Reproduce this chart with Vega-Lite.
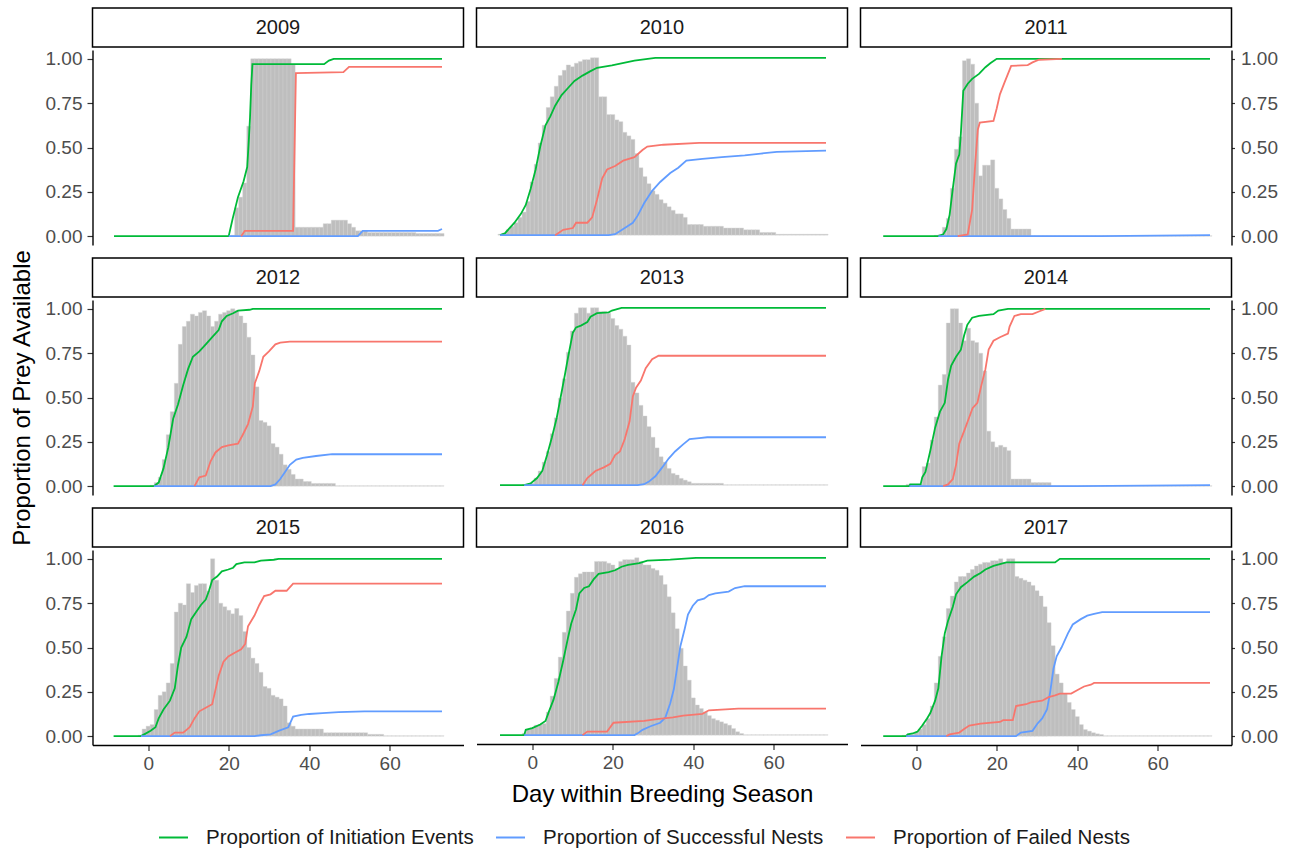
{
"$schema": "https://vega.github.io/schema/vega-lite/v6.json",
"padding": {"left": 10, "top": 7, "right": 5, "bottom": 3},
"datasets": {
"series": [{"s":"I","name":"Proportion of Initiation Events"},{"s":"S","name":"Proportion of Successful Nests"},{"s":"F","name":"Proportion of Failed Nests"}],
"bars": [
{"y":2009,"d":21,"v":0.005},{"y":2009,"d":22,"v":0.16},{"y":2009,"d":23,"v":0.22},{"y":2009,"d":24,"v":0.3},{"y":2009,"d":25,"v":0.62},{"y":2009,"d":26,"v":1},{"y":2009,"d":27,"v":1},{"y":2009,"d":28,"v":1},{"y":2009,"d":29,"v":1},{"y":2009,"d":30,"v":1},{"y":2009,"d":31,"v":1},{"y":2009,"d":32,"v":1},{"y":2009,"d":33,"v":1},{"y":2009,"d":34,"v":1},{"y":2009,"d":35,"v":1},{"y":2009,"d":36,"v":0.97},{"y":2009,"d":37,"v":0.05},{"y":2009,"d":38,"v":0.05},{"y":2009,"d":39,"v":0.05},{"y":2009,"d":40,"v":0.05},{"y":2009,"d":41,"v":0.05},{"y":2009,"d":42,"v":0.05},{"y":2009,"d":43,"v":0.05},{"y":2009,"d":44,"v":0.07},{"y":2009,"d":45,"v":0.07},{"y":2009,"d":46,"v":0.09},{"y":2009,"d":47,"v":0.09},{"y":2009,"d":48,"v":0.09},{"y":2009,"d":49,"v":0.09},{"y":2009,"d":50,"v":0.07},{"y":2009,"d":51,"v":0.05},{"y":2009,"d":52,"v":0.03},{"y":2009,"d":53,"v":0.03},{"y":2009,"d":54,"v":0.03},{"y":2009,"d":55,"v":0.02},{"y":2009,"d":56,"v":0.02},{"y":2009,"d":57,"v":0.02},{"y":2009,"d":58,"v":0.02},{"y":2009,"d":59,"v":0.02},{"y":2009,"d":60,"v":0.02},{"y":2009,"d":61,"v":0.02},{"y":2009,"d":62,"v":0.02},{"y":2009,"d":63,"v":0.02},{"y":2009,"d":64,"v":0.02},{"y":2009,"d":65,"v":0.02},{"y":2009,"d":66,"v":0.02},{"y":2009,"d":67,"v":0.015},{"y":2009,"d":68,"v":0.015},{"y":2009,"d":69,"v":0.015},{"y":2009,"d":70,"v":0.015},{"y":2009,"d":71,"v":0.015},{"y":2009,"d":72,"v":0.015},{"y":2009,"d":73,"v":0.015},
{"y":2010,"d":-8,"v":0.005},{"y":2010,"d":-7,"v":0.01},{"y":2010,"d":-6,"v":0.03},{"y":2010,"d":-5,"v":0.05},{"y":2010,"d":-4,"v":0.07},{"y":2010,"d":-3,"v":0.1},{"y":2010,"d":-2,"v":0.13},{"y":2010,"d":-1,"v":0.19},{"y":2010,"d":0,"v":0.3},{"y":2010,"d":1,"v":0.4},{"y":2010,"d":2,"v":0.52},{"y":2010,"d":3,"v":0.62},{"y":2010,"d":4,"v":0.72},{"y":2010,"d":5,"v":0.78},{"y":2010,"d":6,"v":0.84},{"y":2010,"d":7,"v":0.9},{"y":2010,"d":8,"v":0.93},{"y":2010,"d":9,"v":0.96},{"y":2010,"d":10,"v":0.95},{"y":2010,"d":11,"v":0.97},{"y":2010,"d":12,"v":0.98},{"y":2010,"d":13,"v":0.99},{"y":2010,"d":14,"v":0.99},{"y":2010,"d":15,"v":1},{"y":2010,"d":16,"v":1},{"y":2010,"d":17,"v":0.78},{"y":2010,"d":18,"v":0.78},{"y":2010,"d":19,"v":0.68},{"y":2010,"d":20,"v":0.68},{"y":2010,"d":21,"v":0.65},{"y":2010,"d":22,"v":0.64},{"y":2010,"d":23,"v":0.58},{"y":2010,"d":24,"v":0.56},{"y":2010,"d":25,"v":0.54},{"y":2010,"d":26,"v":0.46},{"y":2010,"d":27,"v":0.38},{"y":2010,"d":28,"v":0.33},{"y":2010,"d":29,"v":0.29},{"y":2010,"d":30,"v":0.25},{"y":2010,"d":31,"v":0.23},{"y":2010,"d":32,"v":0.2},{"y":2010,"d":33,"v":0.18},{"y":2010,"d":34,"v":0.16},{"y":2010,"d":35,"v":0.14},{"y":2010,"d":36,"v":0.12},{"y":2010,"d":37,"v":0.12},{"y":2010,"d":38,"v":0.1},{"y":2010,"d":39,"v":0.06},{"y":2010,"d":40,"v":0.06},{"y":2010,"d":41,"v":0.06},{"y":2010,"d":42,"v":0.06},{"y":2010,"d":43,"v":0.05},{"y":2010,"d":44,"v":0.05},{"y":2010,"d":45,"v":0.05},{"y":2010,"d":46,"v":0.05},{"y":2010,"d":47,"v":0.05},{"y":2010,"d":48,"v":0.04},{"y":2010,"d":49,"v":0.04},{"y":2010,"d":50,"v":0.04},{"y":2010,"d":51,"v":0.04},{"y":2010,"d":52,"v":0.04},{"y":2010,"d":53,"v":0.03},{"y":2010,"d":54,"v":0.03},{"y":2010,"d":55,"v":0.03},{"y":2010,"d":56,"v":0.03},{"y":2010,"d":57,"v":0.015},{"y":2010,"d":58,"v":0.015},{"y":2010,"d":59,"v":0.015},{"y":2010,"d":60,"v":0.015},{"y":2010,"d":61,"v":0.005},{"y":2010,"d":62,"v":0.005},{"y":2010,"d":63,"v":0.005},{"y":2010,"d":64,"v":0.005},{"y":2010,"d":65,"v":0.005},{"y":2010,"d":66,"v":0.005},{"y":2010,"d":67,"v":0.005},{"y":2010,"d":68,"v":0.005},{"y":2010,"d":69,"v":0.005},{"y":2010,"d":70,"v":0.005},{"y":2010,"d":71,"v":0.005},{"y":2010,"d":72,"v":0.005},{"y":2010,"d":73,"v":0.005},
{"y":2011,"d":5,"v":0.005},{"y":2011,"d":6,"v":0.01},{"y":2011,"d":7,"v":0.05},{"y":2011,"d":8,"v":0.1},{"y":2011,"d":9,"v":0.27},{"y":2011,"d":10,"v":0.49},{"y":2011,"d":11,"v":0.56},{"y":2011,"d":12,"v":0.99},{"y":2011,"d":13,"v":1},{"y":2011,"d":14,"v":0.97},{"y":2011,"d":15,"v":0.75},{"y":2011,"d":16,"v":0.34},{"y":2011,"d":17,"v":0.4},{"y":2011,"d":18,"v":0.4},{"y":2011,"d":19,"v":0.43},{"y":2011,"d":20,"v":0.27},{"y":2011,"d":21,"v":0.21},{"y":2011,"d":22,"v":0.15},{"y":2011,"d":23,"v":0.1},{"y":2011,"d":24,"v":0.04},{"y":2011,"d":25,"v":0.04},{"y":2011,"d":26,"v":0.04},{"y":2011,"d":27,"v":0.04},{"y":2011,"d":28,"v":0.04},{"y":2011,"d":29,"v":0.002},{"y":2011,"d":30,"v":0.002},{"y":2011,"d":31,"v":0.002},{"y":2011,"d":32,"v":0.002},{"y":2011,"d":33,"v":0.002},{"y":2011,"d":34,"v":0.002},{"y":2011,"d":35,"v":0.002},{"y":2011,"d":36,"v":0.002},{"y":2011,"d":37,"v":0.002},{"y":2011,"d":38,"v":0.002},{"y":2011,"d":39,"v":0.002},{"y":2011,"d":40,"v":0.002},{"y":2011,"d":41,"v":0.002},{"y":2011,"d":42,"v":0.002},{"y":2011,"d":43,"v":0.002},{"y":2011,"d":44,"v":0.002},{"y":2011,"d":45,"v":0.002},{"y":2011,"d":46,"v":0.002},{"y":2011,"d":47,"v":0.002},{"y":2011,"d":48,"v":0.002},{"y":2011,"d":49,"v":0.002},{"y":2011,"d":50,"v":0.002},{"y":2011,"d":51,"v":0.002},{"y":2011,"d":52,"v":0.002},{"y":2011,"d":53,"v":0.002},{"y":2011,"d":54,"v":0.002},{"y":2011,"d":55,"v":0.002},{"y":2011,"d":56,"v":0.002},{"y":2011,"d":57,"v":0.002},{"y":2011,"d":58,"v":0.002},{"y":2011,"d":59,"v":0.002},{"y":2011,"d":60,"v":0.002},{"y":2011,"d":61,"v":0.002},{"y":2011,"d":62,"v":0.002},{"y":2011,"d":63,"v":0.002},{"y":2011,"d":64,"v":0.002},{"y":2011,"d":65,"v":0.002},{"y":2011,"d":66,"v":0.002},{"y":2011,"d":67,"v":0.002},{"y":2011,"d":68,"v":0.002},{"y":2011,"d":69,"v":0.002},{"y":2011,"d":70,"v":0.002},{"y":2011,"d":71,"v":0.002},{"y":2011,"d":72,"v":0.002},{"y":2011,"d":73,"v":0.002},
{"y":2012,"d":1,"v":0.005},{"y":2012,"d":2,"v":0.02},{"y":2012,"d":3,"v":0.05},{"y":2012,"d":4,"v":0.15},{"y":2012,"d":5,"v":0.29},{"y":2012,"d":6,"v":0.42},{"y":2012,"d":7,"v":0.58},{"y":2012,"d":8,"v":0.8},{"y":2012,"d":9,"v":0.9},{"y":2012,"d":10,"v":0.93},{"y":2012,"d":11,"v":0.97},{"y":2012,"d":12,"v":0.96},{"y":2012,"d":13,"v":0.98},{"y":2012,"d":14,"v":0.99},{"y":2012,"d":15,"v":0.96},{"y":2012,"d":16,"v":0.9},{"y":2012,"d":17,"v":0.93},{"y":2012,"d":18,"v":0.97},{"y":2012,"d":19,"v":0.98},{"y":2012,"d":20,"v":0.99},{"y":2012,"d":21,"v":1},{"y":2012,"d":22,"v":0.99},{"y":2012,"d":23,"v":0.96},{"y":2012,"d":24,"v":0.92},{"y":2012,"d":25,"v":0.84},{"y":2012,"d":26,"v":0.74},{"y":2012,"d":27,"v":0.56},{"y":2012,"d":28,"v":0.37},{"y":2012,"d":29,"v":0.36},{"y":2012,"d":30,"v":0.34},{"y":2012,"d":31,"v":0.24},{"y":2012,"d":32,"v":0.22},{"y":2012,"d":33,"v":0.18},{"y":2012,"d":34,"v":0.12},{"y":2012,"d":35,"v":0.095},{"y":2012,"d":36,"v":0.066},{"y":2012,"d":37,"v":0.04},{"y":2012,"d":38,"v":0.04},{"y":2012,"d":39,"v":0.026},{"y":2012,"d":40,"v":0.026},{"y":2012,"d":41,"v":0.015},{"y":2012,"d":42,"v":0.015},{"y":2012,"d":43,"v":0.015},{"y":2012,"d":44,"v":0.015},{"y":2012,"d":45,"v":0.015},{"y":2012,"d":46,"v":0.015},{"y":2012,"d":47,"v":0.002},{"y":2012,"d":48,"v":0.002},{"y":2012,"d":49,"v":0.002},{"y":2012,"d":50,"v":0.002},{"y":2012,"d":51,"v":0.002},{"y":2012,"d":52,"v":0.002},{"y":2012,"d":53,"v":0.002},{"y":2012,"d":54,"v":0.002},{"y":2012,"d":55,"v":0.002},{"y":2012,"d":56,"v":0.002},{"y":2012,"d":57,"v":0.002},{"y":2012,"d":58,"v":0.002},{"y":2012,"d":59,"v":0.002},{"y":2012,"d":60,"v":0.002},{"y":2012,"d":61,"v":0.002},{"y":2012,"d":62,"v":0.002},{"y":2012,"d":63,"v":0.002},{"y":2012,"d":64,"v":0.002},{"y":2012,"d":65,"v":0.002},{"y":2012,"d":66,"v":0.002},{"y":2012,"d":67,"v":0.002},{"y":2012,"d":68,"v":0.002},{"y":2012,"d":69,"v":0.002},{"y":2012,"d":70,"v":0.002},{"y":2012,"d":71,"v":0.002},{"y":2012,"d":72,"v":0.002},{"y":2012,"d":73,"v":0.002},
{"y":2013,"d":-2,"v":0.003},{"y":2013,"d":-1,"v":0.005},{"y":2013,"d":0,"v":0.01},{"y":2013,"d":1,"v":0.04},{"y":2013,"d":2,"v":0.08},{"y":2013,"d":3,"v":0.13},{"y":2013,"d":4,"v":0.19},{"y":2013,"d":5,"v":0.29},{"y":2013,"d":6,"v":0.38},{"y":2013,"d":7,"v":0.49},{"y":2013,"d":8,"v":0.6},{"y":2013,"d":9,"v":0.75},{"y":2013,"d":10,"v":0.87},{"y":2013,"d":11,"v":0.97},{"y":2013,"d":12,"v":1},{"y":2013,"d":13,"v":1},{"y":2013,"d":14,"v":0.97},{"y":2013,"d":15,"v":1},{"y":2013,"d":16,"v":1},{"y":2013,"d":17,"v":0.98},{"y":2013,"d":18,"v":0.98},{"y":2013,"d":19,"v":0.97},{"y":2013,"d":20,"v":0.94},{"y":2013,"d":21,"v":0.9},{"y":2013,"d":22,"v":0.88},{"y":2013,"d":23,"v":0.84},{"y":2013,"d":24,"v":0.79},{"y":2013,"d":25,"v":0.58},{"y":2013,"d":26,"v":0.52},{"y":2013,"d":27,"v":0.45},{"y":2013,"d":28,"v":0.39},{"y":2013,"d":29,"v":0.33},{"y":2013,"d":30,"v":0.27},{"y":2013,"d":31,"v":0.21},{"y":2013,"d":32,"v":0.16},{"y":2013,"d":33,"v":0.13},{"y":2013,"d":34,"v":0.094},{"y":2013,"d":35,"v":0.066},{"y":2013,"d":36,"v":0.057},{"y":2013,"d":37,"v":0.038},{"y":2013,"d":38,"v":0.028},{"y":2013,"d":39,"v":0.019},{"y":2013,"d":40,"v":0.01},{"y":2013,"d":41,"v":0.01},{"y":2013,"d":42,"v":0.01},{"y":2013,"d":43,"v":0.01},{"y":2013,"d":44,"v":0.01},{"y":2013,"d":45,"v":0.01},{"y":2013,"d":46,"v":0.01},{"y":2013,"d":47,"v":0.01},{"y":2013,"d":48,"v":0.002},{"y":2013,"d":49,"v":0.002},{"y":2013,"d":50,"v":0.002},{"y":2013,"d":51,"v":0.002},{"y":2013,"d":52,"v":0.002},{"y":2013,"d":53,"v":0.002},{"y":2013,"d":54,"v":0.002},{"y":2013,"d":55,"v":0.002},{"y":2013,"d":56,"v":0.002},{"y":2013,"d":57,"v":0.002},{"y":2013,"d":58,"v":0.002},{"y":2013,"d":59,"v":0.002},{"y":2013,"d":60,"v":0.002},{"y":2013,"d":61,"v":0.002},{"y":2013,"d":62,"v":0.002},{"y":2013,"d":63,"v":0.002},{"y":2013,"d":64,"v":0.002},{"y":2013,"d":65,"v":0.002},{"y":2013,"d":66,"v":0.002},{"y":2013,"d":67,"v":0.002},{"y":2013,"d":68,"v":0.002},{"y":2013,"d":69,"v":0.002},{"y":2013,"d":70,"v":0.002},{"y":2013,"d":71,"v":0.002},{"y":2013,"d":72,"v":0.002},{"y":2013,"d":73,"v":0.002},
{"y":2014,"d":-2,"v":0.01},{"y":2014,"d":-1,"v":0.01},{"y":2014,"d":0,"v":0.01},{"y":2014,"d":1,"v":0.01},{"y":2014,"d":2,"v":0.11},{"y":2014,"d":3,"v":0.13},{"y":2014,"d":4,"v":0.26},{"y":2014,"d":5,"v":0.39},{"y":2014,"d":6,"v":0.57},{"y":2014,"d":7,"v":0.63},{"y":2014,"d":8,"v":0.92},{"y":2014,"d":9,"v":1},{"y":2014,"d":10,"v":1},{"y":2014,"d":11,"v":0.92},{"y":2014,"d":12,"v":0.82},{"y":2014,"d":13,"v":0.89},{"y":2014,"d":14,"v":0.82},{"y":2014,"d":15,"v":0.81},{"y":2014,"d":16,"v":0.75},{"y":2014,"d":17,"v":0.65},{"y":2014,"d":18,"v":0.31},{"y":2014,"d":19,"v":0.25},{"y":2014,"d":20,"v":0.22},{"y":2014,"d":21,"v":0.23},{"y":2014,"d":22,"v":0.22},{"y":2014,"d":23,"v":0.2},{"y":2014,"d":24,"v":0.04},{"y":2014,"d":25,"v":0.04},{"y":2014,"d":26,"v":0.04},{"y":2014,"d":27,"v":0.04},{"y":2014,"d":28,"v":0.04},{"y":2014,"d":29,"v":0.02},{"y":2014,"d":30,"v":0.02},{"y":2014,"d":31,"v":0.02},{"y":2014,"d":32,"v":0.02},{"y":2014,"d":33,"v":0.02},{"y":2014,"d":34,"v":0.002},{"y":2014,"d":35,"v":0.002},{"y":2014,"d":36,"v":0.002},{"y":2014,"d":37,"v":0.002},{"y":2014,"d":38,"v":0.002},{"y":2014,"d":39,"v":0.002},{"y":2014,"d":40,"v":0.002},{"y":2014,"d":41,"v":0.002},{"y":2014,"d":42,"v":0.002},{"y":2014,"d":43,"v":0.002},{"y":2014,"d":44,"v":0.002},{"y":2014,"d":45,"v":0.002},{"y":2014,"d":46,"v":0.002},{"y":2014,"d":47,"v":0.002},{"y":2014,"d":48,"v":0.002},{"y":2014,"d":49,"v":0.002},{"y":2014,"d":50,"v":0.002},{"y":2014,"d":51,"v":0.002},{"y":2014,"d":52,"v":0.002},{"y":2014,"d":53,"v":0.002},{"y":2014,"d":54,"v":0.002},{"y":2014,"d":55,"v":0.002},{"y":2014,"d":56,"v":0.002},{"y":2014,"d":57,"v":0.002},{"y":2014,"d":58,"v":0.002},{"y":2014,"d":59,"v":0.002},{"y":2014,"d":60,"v":0.002},{"y":2014,"d":61,"v":0.002},{"y":2014,"d":62,"v":0.002},{"y":2014,"d":63,"v":0.002},{"y":2014,"d":64,"v":0.002},{"y":2014,"d":65,"v":0.002},{"y":2014,"d":66,"v":0.002},{"y":2014,"d":67,"v":0.002},{"y":2014,"d":68,"v":0.002},{"y":2014,"d":69,"v":0.002},{"y":2014,"d":70,"v":0.002},{"y":2014,"d":71,"v":0.002},{"y":2014,"d":72,"v":0.002},{"y":2014,"d":73,"v":0.002},
{"y":2015,"d":-2,"v":0.005},{"y":2015,"d":-1,"v":0.04},{"y":2015,"d":0,"v":0.056},{"y":2015,"d":1,"v":0.065},{"y":2015,"d":2,"v":0.15},{"y":2015,"d":3,"v":0.23},{"y":2015,"d":4,"v":0.25},{"y":2015,"d":5,"v":0.3},{"y":2015,"d":6,"v":0.41},{"y":2015,"d":7,"v":0.7},{"y":2015,"d":8,"v":0.75},{"y":2015,"d":9,"v":0.74},{"y":2015,"d":10,"v":0.86},{"y":2015,"d":11,"v":0.81},{"y":2015,"d":12,"v":0.85},{"y":2015,"d":13,"v":0.86},{"y":2015,"d":14,"v":0.86},{"y":2015,"d":15,"v":0.82},{"y":2015,"d":16,"v":1},{"y":2015,"d":17,"v":0.88},{"y":2015,"d":18,"v":0.75},{"y":2015,"d":19,"v":0.73},{"y":2015,"d":20,"v":0.71},{"y":2015,"d":21,"v":0.69},{"y":2015,"d":22,"v":0.72},{"y":2015,"d":23,"v":0.68},{"y":2015,"d":24,"v":0.59},{"y":2015,"d":25,"v":0.5},{"y":2015,"d":26,"v":0.44},{"y":2015,"d":27,"v":0.41},{"y":2015,"d":28,"v":0.36},{"y":2015,"d":29,"v":0.28},{"y":2015,"d":30,"v":0.27},{"y":2015,"d":31,"v":0.23},{"y":2015,"d":32,"v":0.22},{"y":2015,"d":33,"v":0.21},{"y":2015,"d":34,"v":0.17},{"y":2015,"d":35,"v":0.075},{"y":2015,"d":36,"v":0.056},{"y":2015,"d":37,"v":0.04},{"y":2015,"d":38,"v":0.04},{"y":2015,"d":39,"v":0.04},{"y":2015,"d":40,"v":0.04},{"y":2015,"d":41,"v":0.04},{"y":2015,"d":42,"v":0.04},{"y":2015,"d":43,"v":0.04},{"y":2015,"d":44,"v":0.019},{"y":2015,"d":45,"v":0.019},{"y":2015,"d":46,"v":0.019},{"y":2015,"d":47,"v":0.019},{"y":2015,"d":48,"v":0.019},{"y":2015,"d":49,"v":0.019},{"y":2015,"d":50,"v":0.019},{"y":2015,"d":51,"v":0.019},{"y":2015,"d":52,"v":0.019},{"y":2015,"d":53,"v":0.019},{"y":2015,"d":54,"v":0.019},{"y":2015,"d":55,"v":0.01},{"y":2015,"d":56,"v":0.01},{"y":2015,"d":57,"v":0.01},{"y":2015,"d":58,"v":0.01},{"y":2015,"d":59,"v":0.002},{"y":2015,"d":60,"v":0.002},{"y":2015,"d":61,"v":0.002},{"y":2015,"d":62,"v":0.002},{"y":2015,"d":63,"v":0.002},{"y":2015,"d":64,"v":0.002},{"y":2015,"d":65,"v":0.002},{"y":2015,"d":66,"v":0.002},{"y":2015,"d":67,"v":0.002},{"y":2015,"d":68,"v":0.002},{"y":2015,"d":69,"v":0.002},{"y":2015,"d":70,"v":0.002},{"y":2015,"d":71,"v":0.002},{"y":2015,"d":72,"v":0.002},{"y":2015,"d":73,"v":0.002},
{"y":2016,"d":-2,"v":0.01},{"y":2016,"d":-1,"v":0.03},{"y":2016,"d":0,"v":0.04},{"y":2016,"d":1,"v":0.056},{"y":2016,"d":2,"v":0.06},{"y":2016,"d":3,"v":0.065},{"y":2016,"d":4,"v":0.13},{"y":2016,"d":5,"v":0.22},{"y":2016,"d":6,"v":0.32},{"y":2016,"d":7,"v":0.44},{"y":2016,"d":8,"v":0.58},{"y":2016,"d":9,"v":0.7},{"y":2016,"d":10,"v":0.8},{"y":2016,"d":11,"v":0.89},{"y":2016,"d":12,"v":0.91},{"y":2016,"d":13,"v":0.92},{"y":2016,"d":14,"v":0.92},{"y":2016,"d":15,"v":0.92},{"y":2016,"d":16,"v":0.98},{"y":2016,"d":17,"v":0.98},{"y":2016,"d":18,"v":0.98},{"y":2016,"d":19,"v":0.97},{"y":2016,"d":20,"v":0.96},{"y":2016,"d":21,"v":0.94},{"y":2016,"d":22,"v":0.98},{"y":2016,"d":23,"v":0.99},{"y":2016,"d":24,"v":0.99},{"y":2016,"d":25,"v":0.99},{"y":2016,"d":26,"v":1},{"y":2016,"d":27,"v":0.98},{"y":2016,"d":28,"v":0.96},{"y":2016,"d":29,"v":0.96},{"y":2016,"d":30,"v":0.94},{"y":2016,"d":31,"v":0.93},{"y":2016,"d":32,"v":0.9},{"y":2016,"d":33,"v":0.85},{"y":2016,"d":34,"v":0.78},{"y":2016,"d":35,"v":0.69},{"y":2016,"d":36,"v":0.6},{"y":2016,"d":37,"v":0.49},{"y":2016,"d":38,"v":0.39},{"y":2016,"d":39,"v":0.31},{"y":2016,"d":40,"v":0.21},{"y":2016,"d":41,"v":0.17},{"y":2016,"d":42,"v":0.15},{"y":2016,"d":43,"v":0.13},{"y":2016,"d":44,"v":0.11},{"y":2016,"d":45,"v":0.093},{"y":2016,"d":46,"v":0.084},{"y":2016,"d":47,"v":0.075},{"y":2016,"d":48,"v":0.065},{"y":2016,"d":49,"v":0.056},{"y":2016,"d":50,"v":0.037},{"y":2016,"d":51,"v":0.019},{"y":2016,"d":52,"v":0.009},{"y":2016,"d":53,"v":0.002},{"y":2016,"d":54,"v":0.002},{"y":2016,"d":55,"v":0.002},{"y":2016,"d":56,"v":0.002},{"y":2016,"d":57,"v":0.002},{"y":2016,"d":58,"v":0.002},{"y":2016,"d":59,"v":0.002},{"y":2016,"d":60,"v":0.002},{"y":2016,"d":61,"v":0.002},{"y":2016,"d":62,"v":0.002},{"y":2016,"d":63,"v":0.002},{"y":2016,"d":64,"v":0.002},{"y":2016,"d":65,"v":0.002},{"y":2016,"d":66,"v":0.002},{"y":2016,"d":67,"v":0.002},{"y":2016,"d":68,"v":0.002},{"y":2016,"d":69,"v":0.002},{"y":2016,"d":70,"v":0.002},{"y":2016,"d":71,"v":0.002},{"y":2016,"d":72,"v":0.002},{"y":2016,"d":73,"v":0.002},
{"y":2017,"d":-3,"v":0.005},{"y":2017,"d":-2,"v":0.01},{"y":2017,"d":-1,"v":0.01},{"y":2017,"d":0,"v":0.02},{"y":2017,"d":1,"v":0.04},{"y":2017,"d":2,"v":0.065},{"y":2017,"d":3,"v":0.1},{"y":2017,"d":4,"v":0.17},{"y":2017,"d":5,"v":0.3},{"y":2017,"d":6,"v":0.45},{"y":2017,"d":7,"v":0.56},{"y":2017,"d":8,"v":0.72},{"y":2017,"d":9,"v":0.79},{"y":2017,"d":10,"v":0.87},{"y":2017,"d":11,"v":0.9},{"y":2017,"d":12,"v":0.9},{"y":2017,"d":13,"v":0.92},{"y":2017,"d":14,"v":0.94},{"y":2017,"d":15,"v":0.96},{"y":2017,"d":16,"v":0.97},{"y":2017,"d":17,"v":0.98},{"y":2017,"d":18,"v":0.98},{"y":2017,"d":19,"v":0.99},{"y":2017,"d":20,"v":0.99},{"y":2017,"d":21,"v":1},{"y":2017,"d":22,"v":0.98},{"y":2017,"d":23,"v":1},{"y":2017,"d":24,"v":1},{"y":2017,"d":25,"v":0.9},{"y":2017,"d":26,"v":0.89},{"y":2017,"d":27,"v":0.88},{"y":2017,"d":28,"v":0.87},{"y":2017,"d":29,"v":0.85},{"y":2017,"d":30,"v":0.82},{"y":2017,"d":31,"v":0.79},{"y":2017,"d":32,"v":0.73},{"y":2017,"d":33,"v":0.64},{"y":2017,"d":34,"v":0.51},{"y":2017,"d":35,"v":0.35},{"y":2017,"d":36,"v":0.3},{"y":2017,"d":37,"v":0.24},{"y":2017,"d":38,"v":0.19},{"y":2017,"d":39,"v":0.15},{"y":2017,"d":40,"v":0.11},{"y":2017,"d":41,"v":0.065},{"y":2017,"d":42,"v":0.037},{"y":2017,"d":43,"v":0.028},{"y":2017,"d":44,"v":0.019},{"y":2017,"d":45,"v":0.013},{"y":2017,"d":46,"v":0.009},{"y":2017,"d":47,"v":0.002},{"y":2017,"d":48,"v":0.002},{"y":2017,"d":49,"v":0.002},{"y":2017,"d":50,"v":0.002},{"y":2017,"d":51,"v":0.002},{"y":2017,"d":52,"v":0.002},{"y":2017,"d":53,"v":0.002},{"y":2017,"d":54,"v":0.002},{"y":2017,"d":55,"v":0.002},{"y":2017,"d":56,"v":0.002},{"y":2017,"d":57,"v":0.002},{"y":2017,"d":58,"v":0.002},{"y":2017,"d":59,"v":0.002},{"y":2017,"d":60,"v":0.002},{"y":2017,"d":61,"v":0.002},{"y":2017,"d":62,"v":0.002},{"y":2017,"d":63,"v":0.002},{"y":2017,"d":64,"v":0.002},{"y":2017,"d":65,"v":0.002},{"y":2017,"d":66,"v":0.002},{"y":2017,"d":67,"v":0.002},{"y":2017,"d":68,"v":0.002},{"y":2017,"d":69,"v":0.002},{"y":2017,"d":70,"v":0.002},{"y":2017,"d":71,"v":0.002},{"y":2017,"d":72,"v":0.002},{"y":2017,"d":73,"v":0.002}
],
"lines": [
{"y":2009,"s":"I","d":-8.5,"v":0},{"y":2009,"s":"I","d":20,"v":0},{"y":2009,"s":"I","d":21,"v":0.1},{"y":2009,"s":"I","d":22.3,"v":0.22},{"y":2009,"s":"I","d":23.7,"v":0.31},{"y":2009,"s":"I","d":24.6,"v":0.39},{"y":2009,"s":"I","d":25,"v":0.54},{"y":2009,"s":"I","d":25.3,"v":0.67},{"y":2009,"s":"I","d":25.6,"v":0.85},{"y":2009,"s":"I","d":25.9,"v":0.97},{"y":2009,"s":"I","d":43.7,"v":0.97},{"y":2009,"s":"I","d":44.9,"v":0.99},{"y":2009,"s":"I","d":46.1,"v":1},{"y":2009,"s":"I","d":73,"v":1},
{"y":2009,"s":"S","d":20,"v":0},{"y":2009,"s":"S","d":52.1,"v":0},{"y":2009,"s":"S","d":53.3,"v":0.03},{"y":2009,"s":"S","d":72,"v":0.03},{"y":2009,"s":"S","d":73,"v":0.04},
{"y":2009,"s":"F","d":23.1,"v":0},{"y":2009,"s":"F","d":24,"v":0.03},{"y":2009,"s":"F","d":36,"v":0.03},{"y":2009,"s":"F","d":36.7,"v":0.92},{"y":2009,"s":"F","d":48.5,"v":0.925},{"y":2009,"s":"F","d":49.9,"v":0.955},{"y":2009,"s":"F","d":73,"v":0.955},
{"y":2010,"s":"I","d":-8,"v":0},{"y":2010,"s":"I","d":-6.8,"v":0.01},{"y":2010,"s":"I","d":-4.4,"v":0.07},{"y":2010,"s":"I","d":-2.8,"v":0.12},{"y":2010,"s":"I","d":-1.6,"v":0.17},{"y":2010,"s":"I","d":-0.4,"v":0.26},{"y":2010,"s":"I","d":0.85,"v":0.37},{"y":2010,"s":"I","d":2,"v":0.5},{"y":2010,"s":"I","d":3.3,"v":0.62},{"y":2010,"s":"I","d":4.5,"v":0.67},{"y":2010,"s":"I","d":5.7,"v":0.73},{"y":2010,"s":"I","d":7.3,"v":0.79},{"y":2010,"s":"I","d":8.9,"v":0.83},{"y":2010,"s":"I","d":10.5,"v":0.87},{"y":2010,"s":"I","d":12.5,"v":0.9},{"y":2010,"s":"I","d":14.5,"v":0.925},{"y":2010,"s":"I","d":16.1,"v":0.944},{"y":2010,"s":"I","d":19.8,"v":0.957},{"y":2010,"s":"I","d":25.4,"v":0.985},{"y":2010,"s":"I","d":30.6,"v":1},{"y":2010,"s":"I","d":73,"v":1},
{"y":2010,"s":"S","d":-8,"v":0},{"y":2010,"s":"S","d":19,"v":0},{"y":2010,"s":"S","d":20.6,"v":0.005},{"y":2010,"s":"S","d":23,"v":0.04},{"y":2010,"s":"S","d":25,"v":0.07},{"y":2010,"s":"S","d":26.2,"v":0.11},{"y":2010,"s":"S","d":27.8,"v":0.18},{"y":2010,"s":"S","d":29.8,"v":0.25},{"y":2010,"s":"S","d":31.8,"v":0.3},{"y":2010,"s":"S","d":34.3,"v":0.35},{"y":2010,"s":"S","d":36.3,"v":0.38},{"y":2010,"s":"S","d":38.3,"v":0.42},{"y":2010,"s":"S","d":42.3,"v":0.43},{"y":2010,"s":"S","d":47.1,"v":0.44},{"y":2010,"s":"S","d":52.8,"v":0.45},{"y":2010,"s":"S","d":56.8,"v":0.46},{"y":2010,"s":"S","d":60.8,"v":0.47},{"y":2010,"s":"S","d":73,"v":0.477},
{"y":2010,"s":"F","d":5.7,"v":0},{"y":2010,"s":"F","d":7.7,"v":0.03},{"y":2010,"s":"F","d":10.1,"v":0.04},{"y":2010,"s":"F","d":10.9,"v":0.07},{"y":2010,"s":"F","d":13.7,"v":0.07},{"y":2010,"s":"F","d":14.9,"v":0.1},{"y":2010,"s":"F","d":16.1,"v":0.2},{"y":2010,"s":"F","d":17.4,"v":0.32},{"y":2010,"s":"F","d":18.6,"v":0.37},{"y":2010,"s":"F","d":20.6,"v":0.39},{"y":2010,"s":"F","d":22.6,"v":0.42},{"y":2010,"s":"F","d":25.4,"v":0.44},{"y":2010,"s":"F","d":27.4,"v":0.48},{"y":2010,"s":"F","d":28.6,"v":0.5},{"y":2010,"s":"F","d":32.6,"v":0.51},{"y":2010,"s":"F","d":41.5,"v":0.52},{"y":2010,"s":"F","d":73,"v":0.52},
{"y":2011,"s":"I","d":-8.2,"v":0},{"y":2011,"s":"I","d":5.5,"v":0},{"y":2011,"s":"I","d":6.7,"v":0.01},{"y":2011,"s":"I","d":7.5,"v":0.04},{"y":2011,"s":"I","d":8.3,"v":0.12},{"y":2011,"s":"I","d":9.1,"v":0.27},{"y":2011,"s":"I","d":9.9,"v":0.41},{"y":2011,"s":"I","d":10.7,"v":0.46},{"y":2011,"s":"I","d":11.1,"v":0.58},{"y":2011,"s":"I","d":11.7,"v":0.82},{"y":2011,"s":"I","d":12.8,"v":0.86},{"y":2011,"s":"I","d":13.9,"v":0.887},{"y":2011,"s":"I","d":15.6,"v":0.915},{"y":2011,"s":"I","d":17.2,"v":0.953},{"y":2011,"s":"I","d":18.4,"v":0.975},{"y":2011,"s":"I","d":20,"v":1},{"y":2011,"s":"I","d":73,"v":1},
{"y":2011,"s":"S","d":5.5,"v":0},{"y":2011,"s":"S","d":46,"v":0},{"y":2011,"s":"S","d":73,"v":0.006},
{"y":2011,"s":"F","d":10.3,"v":0},{"y":2011,"s":"F","d":12.8,"v":0.01},{"y":2011,"s":"F","d":13.9,"v":0.15},{"y":2011,"s":"F","d":14.7,"v":0.42},{"y":2011,"s":"F","d":15.3,"v":0.6},{"y":2011,"s":"F","d":15.8,"v":0.64},{"y":2011,"s":"F","d":19.2,"v":0.65},{"y":2011,"s":"F","d":20,"v":0.72},{"y":2011,"s":"F","d":20.8,"v":0.8},{"y":2011,"s":"F","d":22,"v":0.87},{"y":2011,"s":"F","d":23.6,"v":0.96},{"y":2011,"s":"F","d":27.7,"v":0.965},{"y":2011,"s":"F","d":28.9,"v":0.98},{"y":2011,"s":"F","d":30.5,"v":0.995},{"y":2011,"s":"F","d":36.2,"v":1},
{"y":2012,"s":"I","d":-8.6,"v":0},{"y":2012,"s":"I","d":1.4,"v":0},{"y":2012,"s":"I","d":2.6,"v":0.02},{"y":2012,"s":"I","d":3.8,"v":0.1},{"y":2012,"s":"I","d":5,"v":0.22},{"y":2012,"s":"I","d":6.2,"v":0.38},{"y":2012,"s":"I","d":7.4,"v":0.46},{"y":2012,"s":"I","d":8.7,"v":0.57},{"y":2012,"s":"I","d":9.9,"v":0.66},{"y":2012,"s":"I","d":11.1,"v":0.73},{"y":2012,"s":"I","d":12.7,"v":0.76},{"y":2012,"s":"I","d":14.3,"v":0.8},{"y":2012,"s":"I","d":15.9,"v":0.84},{"y":2012,"s":"I","d":17.5,"v":0.88},{"y":2012,"s":"I","d":18.3,"v":0.93},{"y":2012,"s":"I","d":19.5,"v":0.96},{"y":2012,"s":"I","d":21.1,"v":0.975},{"y":2012,"s":"I","d":22.3,"v":0.99},{"y":2012,"s":"I","d":25.2,"v":0.995},{"y":2012,"s":"I","d":26,"v":1},{"y":2012,"s":"I","d":73,"v":1},
{"y":2012,"s":"S","d":1.4,"v":0},{"y":2012,"s":"S","d":30.4,"v":0},{"y":2012,"s":"S","d":31.6,"v":0.01},{"y":2012,"s":"S","d":32.8,"v":0.04},{"y":2012,"s":"S","d":34,"v":0.08},{"y":2012,"s":"S","d":35.2,"v":0.12},{"y":2012,"s":"S","d":36.8,"v":0.15},{"y":2012,"s":"S","d":38.4,"v":0.16},{"y":2012,"s":"S","d":41.7,"v":0.17},{"y":2012,"s":"S","d":45.7,"v":0.18},{"y":2012,"s":"S","d":73,"v":0.18},
{"y":2012,"s":"F","d":11.5,"v":0},{"y":2012,"s":"F","d":12.7,"v":0.05},{"y":2012,"s":"F","d":14.3,"v":0.06},{"y":2012,"s":"F","d":15.5,"v":0.14},{"y":2012,"s":"F","d":16.7,"v":0.19},{"y":2012,"s":"F","d":18.3,"v":0.22},{"y":2012,"s":"F","d":19.9,"v":0.23},{"y":2012,"s":"F","d":22.3,"v":0.24},{"y":2012,"s":"F","d":23.5,"v":0.29},{"y":2012,"s":"F","d":24.8,"v":0.35},{"y":2012,"s":"F","d":26,"v":0.45},{"y":2012,"s":"F","d":26.5,"v":0.58},{"y":2012,"s":"F","d":27.6,"v":0.65},{"y":2012,"s":"F","d":28.6,"v":0.73},{"y":2012,"s":"F","d":30,"v":0.76},{"y":2012,"s":"F","d":31.6,"v":0.8},{"y":2012,"s":"F","d":32.8,"v":0.81},{"y":2012,"s":"F","d":35.2,"v":0.815},{"y":2012,"s":"F","d":73,"v":0.815},
{"y":2013,"s":"I","d":-8,"v":0},{"y":2013,"s":"I","d":-2,"v":0},{"y":2013,"s":"I","d":-0.4,"v":0.01},{"y":2013,"s":"I","d":1.2,"v":0.04},{"y":2013,"s":"I","d":2.5,"v":0.08},{"y":2013,"s":"I","d":3.7,"v":0.17},{"y":2013,"s":"I","d":4.9,"v":0.27},{"y":2013,"s":"I","d":6.1,"v":0.38},{"y":2013,"s":"I","d":7.1,"v":0.5},{"y":2013,"s":"I","d":8.1,"v":0.62},{"y":2013,"s":"I","d":8.9,"v":0.72},{"y":2013,"s":"I","d":10.1,"v":0.86},{"y":2013,"s":"I","d":10.9,"v":0.89},{"y":2013,"s":"I","d":12.1,"v":0.9},{"y":2013,"s":"I","d":13.7,"v":0.92},{"y":2013,"s":"I","d":14.5,"v":0.95},{"y":2013,"s":"I","d":16.1,"v":0.97},{"y":2013,"s":"I","d":19,"v":0.975},{"y":2013,"s":"I","d":19.8,"v":0.985},{"y":2013,"s":"I","d":22.2,"v":1},{"y":2013,"s":"I","d":73,"v":1},
{"y":2013,"s":"S","d":-2,"v":0},{"y":2013,"s":"S","d":26.2,"v":0},{"y":2013,"s":"S","d":27.8,"v":0.005},{"y":2013,"s":"S","d":29,"v":0.02},{"y":2013,"s":"S","d":30.6,"v":0.05},{"y":2013,"s":"S","d":32.3,"v":0.1},{"y":2013,"s":"S","d":33.9,"v":0.15},{"y":2013,"s":"S","d":35.5,"v":0.19},{"y":2013,"s":"S","d":37.5,"v":0.23},{"y":2013,"s":"S","d":39.1,"v":0.26},{"y":2013,"s":"S","d":41.5,"v":0.265},{"y":2013,"s":"S","d":43.5,"v":0.27},{"y":2013,"s":"S","d":73,"v":0.27},
{"y":2013,"s":"F","d":12.5,"v":0},{"y":2013,"s":"F","d":13.7,"v":0.04},{"y":2013,"s":"F","d":15.7,"v":0.08},{"y":2013,"s":"F","d":17.8,"v":0.1},{"y":2013,"s":"F","d":19.4,"v":0.12},{"y":2013,"s":"F","d":20.6,"v":0.17},{"y":2013,"s":"F","d":21.8,"v":0.19},{"y":2013,"s":"F","d":23,"v":0.26},{"y":2013,"s":"F","d":24.2,"v":0.36},{"y":2013,"s":"F","d":25,"v":0.5},{"y":2013,"s":"F","d":25.8,"v":0.55},{"y":2013,"s":"F","d":27,"v":0.59},{"y":2013,"s":"F","d":28.2,"v":0.66},{"y":2013,"s":"F","d":29.8,"v":0.71},{"y":2013,"s":"F","d":31.4,"v":0.73},{"y":2013,"s":"F","d":73,"v":0.73},
{"y":2014,"s":"I","d":-8.2,"v":0},{"y":2014,"s":"I","d":-1.7,"v":0},{"y":2014,"s":"I","d":-1.5,"v":0.01},{"y":2014,"s":"I","d":1.1,"v":0.01},{"y":2014,"s":"I","d":1.5,"v":0.05},{"y":2014,"s":"I","d":2.3,"v":0.08},{"y":2014,"s":"I","d":3.5,"v":0.2},{"y":2014,"s":"I","d":4.7,"v":0.33},{"y":2014,"s":"I","d":5.9,"v":0.42},{"y":2014,"s":"I","d":7.1,"v":0.47},{"y":2014,"s":"I","d":7.9,"v":0.6},{"y":2014,"s":"I","d":8.7,"v":0.68},{"y":2014,"s":"I","d":9.9,"v":0.73},{"y":2014,"s":"I","d":11.1,"v":0.77},{"y":2014,"s":"I","d":11.9,"v":0.85},{"y":2014,"s":"I","d":12.7,"v":0.91},{"y":2014,"s":"I","d":13.9,"v":0.95},{"y":2014,"s":"I","d":15.6,"v":0.96},{"y":2014,"s":"I","d":19.2,"v":0.97},{"y":2014,"s":"I","d":20.4,"v":0.99},{"y":2014,"s":"I","d":22.8,"v":1},{"y":2014,"s":"I","d":73,"v":1},
{"y":2014,"s":"S","d":-1.7,"v":0},{"y":2014,"s":"S","d":40,"v":0},{"y":2014,"s":"S","d":73,"v":0.006},
{"y":2014,"s":"F","d":6.7,"v":0},{"y":2014,"s":"F","d":7.9,"v":0.01},{"y":2014,"s":"F","d":9.1,"v":0.04},{"y":2014,"s":"F","d":9.9,"v":0.12},{"y":2014,"s":"F","d":10.7,"v":0.24},{"y":2014,"s":"F","d":11.9,"v":0.31},{"y":2014,"s":"F","d":13.2,"v":0.39},{"y":2014,"s":"F","d":14,"v":0.44},{"y":2014,"s":"F","d":15.2,"v":0.47},{"y":2014,"s":"F","d":16.2,"v":0.57},{"y":2014,"s":"F","d":17.2,"v":0.66},{"y":2014,"s":"F","d":18,"v":0.77},{"y":2014,"s":"F","d":19.2,"v":0.82},{"y":2014,"s":"F","d":20.8,"v":0.84},{"y":2014,"s":"F","d":22.8,"v":0.86},{"y":2014,"s":"F","d":23.2,"v":0.9},{"y":2014,"s":"F","d":24.4,"v":0.96},{"y":2014,"s":"F","d":26,"v":0.97},{"y":2014,"s":"F","d":28.9,"v":0.97},{"y":2014,"s":"F","d":30.5,"v":0.985},{"y":2014,"s":"F","d":32.1,"v":1},
{"y":2015,"s":"I","d":-8.6,"v":0},{"y":2015,"s":"I","d":-1.8,"v":0},{"y":2015,"s":"I","d":-1,"v":0.01},{"y":2015,"s":"I","d":0.6,"v":0.03},{"y":2015,"s":"I","d":1.8,"v":0.05},{"y":2015,"s":"I","d":2.6,"v":0.1},{"y":2015,"s":"I","d":3.8,"v":0.15},{"y":2015,"s":"I","d":5.4,"v":0.2},{"y":2015,"s":"I","d":6.6,"v":0.27},{"y":2015,"s":"I","d":7.4,"v":0.4},{"y":2015,"s":"I","d":8.2,"v":0.5},{"y":2015,"s":"I","d":9.5,"v":0.56},{"y":2015,"s":"I","d":10.7,"v":0.66},{"y":2015,"s":"I","d":11.9,"v":0.7},{"y":2015,"s":"I","d":13.1,"v":0.74},{"y":2015,"s":"I","d":14.3,"v":0.77},{"y":2015,"s":"I","d":15.1,"v":0.82},{"y":2015,"s":"I","d":15.9,"v":0.88},{"y":2015,"s":"I","d":17.1,"v":0.9},{"y":2015,"s":"I","d":18.3,"v":0.93},{"y":2015,"s":"I","d":19.9,"v":0.94},{"y":2015,"s":"I","d":21.1,"v":0.95},{"y":2015,"s":"I","d":21.9,"v":0.97},{"y":2015,"s":"I","d":23.9,"v":0.98},{"y":2015,"s":"I","d":26.4,"v":0.98},{"y":2015,"s":"I","d":28,"v":0.99},{"y":2015,"s":"I","d":31.2,"v":0.995},{"y":2015,"s":"I","d":32.4,"v":1},{"y":2015,"s":"I","d":73,"v":1},
{"y":2015,"s":"S","d":-1.8,"v":0},{"y":2015,"s":"S","d":26.4,"v":0},{"y":2015,"s":"S","d":28,"v":0.005},{"y":2015,"s":"S","d":30.4,"v":0.01},{"y":2015,"s":"S","d":32.4,"v":0.03},{"y":2015,"s":"S","d":34.8,"v":0.05},{"y":2015,"s":"S","d":36,"v":0.11},{"y":2015,"s":"S","d":38,"v":0.12},{"y":2015,"s":"S","d":40,"v":0.125},{"y":2015,"s":"S","d":43.3,"v":0.13},{"y":2015,"s":"S","d":47.3,"v":0.135},{"y":2015,"s":"S","d":53.7,"v":0.14},{"y":2015,"s":"S","d":73,"v":0.14},
{"y":2015,"s":"F","d":5.4,"v":0},{"y":2015,"s":"F","d":6.6,"v":0.02},{"y":2015,"s":"F","d":8.7,"v":0.02},{"y":2015,"s":"F","d":10.3,"v":0.05},{"y":2015,"s":"F","d":11.5,"v":0.1},{"y":2015,"s":"F","d":12.7,"v":0.14},{"y":2015,"s":"F","d":14.3,"v":0.16},{"y":2015,"s":"F","d":15.9,"v":0.18},{"y":2015,"s":"F","d":16.5,"v":0.24},{"y":2015,"s":"F","d":17.5,"v":0.34},{"y":2015,"s":"F","d":18.7,"v":0.42},{"y":2015,"s":"F","d":19.9,"v":0.45},{"y":2015,"s":"F","d":21.5,"v":0.47},{"y":2015,"s":"F","d":23.1,"v":0.49},{"y":2015,"s":"F","d":24.1,"v":0.52},{"y":2015,"s":"F","d":24.8,"v":0.62},{"y":2015,"s":"F","d":26.4,"v":0.68},{"y":2015,"s":"F","d":27.6,"v":0.74},{"y":2015,"s":"F","d":28.8,"v":0.79},{"y":2015,"s":"F","d":30.4,"v":0.8},{"y":2015,"s":"F","d":31.6,"v":0.82},{"y":2015,"s":"F","d":34.4,"v":0.82},{"y":2015,"s":"F","d":36,"v":0.86},{"y":2015,"s":"F","d":73,"v":0.86},
{"y":2016,"s":"I","d":-8,"v":0},{"y":2016,"s":"I","d":-2,"v":0},{"y":2016,"s":"I","d":-1.6,"v":0.03},{"y":2016,"s":"I","d":0,"v":0.04},{"y":2016,"s":"I","d":2,"v":0.06},{"y":2016,"s":"I","d":3.3,"v":0.08},{"y":2016,"s":"I","d":4.1,"v":0.13},{"y":2016,"s":"I","d":5.3,"v":0.2},{"y":2016,"s":"I","d":6.5,"v":0.3},{"y":2016,"s":"I","d":7.7,"v":0.42},{"y":2016,"s":"I","d":8.9,"v":0.55},{"y":2016,"s":"I","d":9.7,"v":0.63},{"y":2016,"s":"I","d":10.9,"v":0.71},{"y":2016,"s":"I","d":11.7,"v":0.8},{"y":2016,"s":"I","d":12.9,"v":0.83},{"y":2016,"s":"I","d":14.1,"v":0.84},{"y":2016,"s":"I","d":15.3,"v":0.88},{"y":2016,"s":"I","d":16.5,"v":0.91},{"y":2016,"s":"I","d":19,"v":0.92},{"y":2016,"s":"I","d":20.6,"v":0.93},{"y":2016,"s":"I","d":22.2,"v":0.95},{"y":2016,"s":"I","d":23.8,"v":0.96},{"y":2016,"s":"I","d":26.6,"v":0.97},{"y":2016,"s":"I","d":28.6,"v":0.985},{"y":2016,"s":"I","d":34.3,"v":0.99},{"y":2016,"s":"I","d":40.7,"v":1},{"y":2016,"s":"I","d":73,"v":1},
{"y":2016,"s":"S","d":-2,"v":0},{"y":2016,"s":"S","d":25.4,"v":0},{"y":2016,"s":"S","d":26.2,"v":0.01},{"y":2016,"s":"S","d":27.4,"v":0.03},{"y":2016,"s":"S","d":29.4,"v":0.05},{"y":2016,"s":"S","d":31.8,"v":0.07},{"y":2016,"s":"S","d":33.1,"v":0.1},{"y":2016,"s":"S","d":34.3,"v":0.18},{"y":2016,"s":"S","d":35.2,"v":0.26},{"y":2016,"s":"S","d":36,"v":0.38},{"y":2016,"s":"S","d":36.8,"v":0.5},{"y":2016,"s":"S","d":37.9,"v":0.6},{"y":2016,"s":"S","d":38.7,"v":0.68},{"y":2016,"s":"S","d":39.9,"v":0.73},{"y":2016,"s":"S","d":41.1,"v":0.76},{"y":2016,"s":"S","d":42.7,"v":0.77},{"y":2016,"s":"S","d":43.9,"v":0.79},{"y":2016,"s":"S","d":45.5,"v":0.8},{"y":2016,"s":"S","d":48.8,"v":0.81},{"y":2016,"s":"S","d":50.4,"v":0.83},{"y":2016,"s":"S","d":52.8,"v":0.84},{"y":2016,"s":"S","d":73,"v":0.84},
{"y":2016,"s":"F","d":12.5,"v":0},{"y":2016,"s":"F","d":13.7,"v":0.02},{"y":2016,"s":"F","d":18.6,"v":0.02},{"y":2016,"s":"F","d":20.2,"v":0.07},{"y":2016,"s":"F","d":27.8,"v":0.08},{"y":2016,"s":"F","d":31,"v":0.09},{"y":2016,"s":"F","d":35,"v":0.1},{"y":2016,"s":"F","d":37.5,"v":0.11},{"y":2016,"s":"F","d":42.3,"v":0.12},{"y":2016,"s":"F","d":43.9,"v":0.14},{"y":2016,"s":"F","d":51.2,"v":0.15},{"y":2016,"s":"F","d":73,"v":0.15},
{"y":2017,"s":"I","d":-8.2,"v":0},{"y":2017,"s":"I","d":-2.5,"v":0},{"y":2017,"s":"I","d":-2.1,"v":0.01},{"y":2017,"s":"I","d":-0.9,"v":0.015},{"y":2017,"s":"I","d":0.3,"v":0.025},{"y":2017,"s":"I","d":1.5,"v":0.06},{"y":2017,"s":"I","d":2.7,"v":0.1},{"y":2017,"s":"I","d":3.5,"v":0.13},{"y":2017,"s":"I","d":4.7,"v":0.2},{"y":2017,"s":"I","d":5.5,"v":0.27},{"y":2017,"s":"I","d":6.3,"v":0.45},{"y":2017,"s":"I","d":7.1,"v":0.58},{"y":2017,"s":"I","d":7.9,"v":0.65},{"y":2017,"s":"I","d":9.1,"v":0.73},{"y":2017,"s":"I","d":9.9,"v":0.8},{"y":2017,"s":"I","d":11.1,"v":0.84},{"y":2017,"s":"I","d":12.8,"v":0.87},{"y":2017,"s":"I","d":14.4,"v":0.9},{"y":2017,"s":"I","d":16,"v":0.92},{"y":2017,"s":"I","d":17.2,"v":0.94},{"y":2017,"s":"I","d":19.2,"v":0.96},{"y":2017,"s":"I","d":20.8,"v":0.97},{"y":2017,"s":"I","d":22.4,"v":0.98},{"y":2017,"s":"I","d":34.5,"v":0.98},{"y":2017,"s":"I","d":35.7,"v":1},{"y":2017,"s":"I","d":73,"v":1},
{"y":2017,"s":"S","d":-2.5,"v":0},{"y":2017,"s":"S","d":24.8,"v":0},{"y":2017,"s":"S","d":26,"v":0.02},{"y":2017,"s":"S","d":28.9,"v":0.03},{"y":2017,"s":"S","d":30.1,"v":0.07},{"y":2017,"s":"S","d":31.3,"v":0.1},{"y":2017,"s":"S","d":32.5,"v":0.15},{"y":2017,"s":"S","d":33.3,"v":0.25},{"y":2017,"s":"S","d":34.1,"v":0.38},{"y":2017,"s":"S","d":34.9,"v":0.45},{"y":2017,"s":"S","d":36.1,"v":0.5},{"y":2017,"s":"S","d":37.7,"v":0.58},{"y":2017,"s":"S","d":38.9,"v":0.63},{"y":2017,"s":"S","d":40.9,"v":0.66},{"y":2017,"s":"S","d":42.5,"v":0.68},{"y":2017,"s":"S","d":44.2,"v":0.69},{"y":2017,"s":"S","d":46.2,"v":0.7},{"y":2017,"s":"S","d":73,"v":0.7},
{"y":2017,"s":"F","d":7.5,"v":0},{"y":2017,"s":"F","d":8.3,"v":0.01},{"y":2017,"s":"F","d":10.7,"v":0.02},{"y":2017,"s":"F","d":11.9,"v":0.04},{"y":2017,"s":"F","d":13.2,"v":0.06},{"y":2017,"s":"F","d":16,"v":0.07},{"y":2017,"s":"F","d":20.8,"v":0.08},{"y":2017,"s":"F","d":21.6,"v":0.09},{"y":2017,"s":"F","d":24,"v":0.09},{"y":2017,"s":"F","d":24.8,"v":0.17},{"y":2017,"s":"F","d":27.3,"v":0.18},{"y":2017,"s":"F","d":28.5,"v":0.19},{"y":2017,"s":"F","d":31.3,"v":0.2},{"y":2017,"s":"F","d":32.9,"v":0.22},{"y":2017,"s":"F","d":34.5,"v":0.23},{"y":2017,"s":"F","d":35.7,"v":0.24},{"y":2017,"s":"F","d":38.5,"v":0.24},{"y":2017,"s":"F","d":40.1,"v":0.26},{"y":2017,"s":"F","d":41.7,"v":0.28},{"y":2017,"s":"F","d":43.4,"v":0.29},{"y":2017,"s":"F","d":44.2,"v":0.3},{"y":2017,"s":"F","d":73,"v":0.3}
]
},
"spacing": 9.5,
"hconcat": [
{"width": 24, "height": 780, "data": {"values": [{"t": "Proportion of Prey Available"}]}, "mark": {"type": "text", "angle": 270, "fontSize": 24, "color": "black"}, "encoding": {"text": {"field": "t", "type": "nominal"}}},
{"spacing": 10, "vconcat": [
{"spacing": 11, "hconcat": [
 {"spacing": 1, "vconcat": [
  {"width": 371, "height": 39, "data": {"values": [{"year": "2009"}]}, "mark": {"type": "text", "fontSize": 20, "color": "#1a1a1a"}, "encoding": {"text": {"field": "year", "type": "nominal"}}, "view": {"stroke": "black", "strokeWidth": 1.5, "fill": "white"}},
  {"width": 371, "height": 195,
   "encoding": {"x": {"field": "d", "type": "quantitative", "scale": {"domain": [-12.6, 77.1], "nice": false, "zero": false}, "axis": null},
                "y": {"field": "v", "type": "quantitative", "scale": {"domain": [-0.05, 1.05], "nice": false, "zero": false}, "axis": {"orient": "left", "values": [0, 0.25, 0.5, 0.75, 1], "format": ".2f", "title": null, "tickSize": 5.5, "labelPadding": 5}}},
   "layer": [
    {"data": {"name": "bars"}, "transform": [{"filter": "datum.y == 2009"}], "mark": {"type": "bar", "size": 4.14, "fill": "#bebebe", "stroke": "#d4d4d4", "strokeWidth": 0.4}, "encoding": {"y2": {"datum": 0}}},
    {"data": {"name": "lines"}, "transform": [{"filter": "datum.y == 2009"}, {"lookup": "s", "from": {"data": {"name": "series"}, "key": "s", "fields": ["name"]}}], "mark": {"type": "line", "strokeWidth": 1.8}, "encoding": {"color": {"field": "name", "type": "nominal", "scale": {"domain": ["Proportion of Initiation Events", "Proportion of Successful Nests", "Proportion of Failed Nests"], "range": ["#00BA38", "#619CFF", "#F8766D"]}, "legend": {"title": null, "orient": "none", "legendX": 147, "legendY": 814, "direction": "horizontal"}}}}
   ]}
 ]},
 {"spacing": 1, "vconcat": [
  {"width": 371, "height": 39, "data": {"values": [{"year": "2010"}]}, "mark": {"type": "text", "fontSize": 20, "color": "#1a1a1a"}, "encoding": {"text": {"field": "year", "type": "nominal"}}, "view": {"stroke": "black", "strokeWidth": 1.5, "fill": "white"}},
  {"width": 371, "height": 195,
   "encoding": {"x": {"field": "d", "type": "quantitative", "scale": {"domain": [-12.6, 77.1], "nice": false, "zero": false}, "axis": null},
                "y": {"field": "v", "type": "quantitative", "scale": {"domain": [-0.05, 1.05], "nice": false, "zero": false}, "axis": null}},
   "layer": [
    {"data": {"name": "bars"}, "transform": [{"filter": "datum.y == 2010"}], "mark": {"type": "bar", "size": 4.14, "fill": "#bebebe", "stroke": "#d4d4d4", "strokeWidth": 0.4}, "encoding": {"y2": {"datum": 0}}},
    {"data": {"name": "lines"}, "transform": [{"filter": "datum.y == 2010"}, {"lookup": "s", "from": {"data": {"name": "series"}, "key": "s", "fields": ["name"]}}], "mark": {"type": "line", "strokeWidth": 1.8}, "encoding": {"color": {"field": "name", "type": "nominal", "scale": {"domain": ["Proportion of Initiation Events", "Proportion of Successful Nests", "Proportion of Failed Nests"], "range": ["#00BA38", "#619CFF", "#F8766D"]}, "legend": {"title": null, "orient": "none", "legendX": 147, "legendY": 814, "direction": "horizontal"}}}}
   ]}
 ]},
 {"spacing": 1, "vconcat": [
  {"width": 371, "height": 39, "data": {"values": [{"year": "2011"}]}, "mark": {"type": "text", "fontSize": 20, "color": "#1a1a1a"}, "encoding": {"text": {"field": "year", "type": "nominal"}}, "view": {"stroke": "black", "strokeWidth": 1.5, "fill": "white"}},
  {"width": 371, "height": 195,
   "encoding": {"x": {"field": "d", "type": "quantitative", "scale": {"domain": [-12.6, 77.1], "nice": false, "zero": false}, "axis": null},
                "y": {"field": "v", "type": "quantitative", "scale": {"domain": [-0.05, 1.05], "nice": false, "zero": false}, "axis": {"orient": "right", "values": [0, 0.25, 0.5, 0.75, 1], "format": ".2f", "title": null, "tickSize": 3, "labelPadding": 6}}},
   "layer": [
    {"data": {"name": "bars"}, "transform": [{"filter": "datum.y == 2011"}], "mark": {"type": "bar", "size": 4.14, "fill": "#bebebe", "stroke": "#d4d4d4", "strokeWidth": 0.4}, "encoding": {"y2": {"datum": 0}}},
    {"data": {"name": "lines"}, "transform": [{"filter": "datum.y == 2011"}, {"lookup": "s", "from": {"data": {"name": "series"}, "key": "s", "fields": ["name"]}}], "mark": {"type": "line", "strokeWidth": 1.8}, "encoding": {"color": {"field": "name", "type": "nominal", "scale": {"domain": ["Proportion of Initiation Events", "Proportion of Successful Nests", "Proportion of Failed Nests"], "range": ["#00BA38", "#619CFF", "#F8766D"]}, "legend": {"title": null, "orient": "none", "legendX": 147, "legendY": 814, "direction": "horizontal"}}}}
   ]}
 ]}
]},
{"spacing": 11, "hconcat": [
 {"spacing": 1, "vconcat": [
  {"width": 371, "height": 39, "data": {"values": [{"year": "2012"}]}, "mark": {"type": "text", "fontSize": 20, "color": "#1a1a1a"}, "encoding": {"text": {"field": "year", "type": "nominal"}}, "view": {"stroke": "black", "strokeWidth": 1.5, "fill": "white"}},
  {"width": 371, "height": 195,
   "encoding": {"x": {"field": "d", "type": "quantitative", "scale": {"domain": [-12.6, 77.1], "nice": false, "zero": false}, "axis": null},
                "y": {"field": "v", "type": "quantitative", "scale": {"domain": [-0.05, 1.05], "nice": false, "zero": false}, "axis": {"orient": "left", "values": [0, 0.25, 0.5, 0.75, 1], "format": ".2f", "title": null, "tickSize": 5.5, "labelPadding": 5}}},
   "layer": [
    {"data": {"name": "bars"}, "transform": [{"filter": "datum.y == 2012"}], "mark": {"type": "bar", "size": 4.14, "fill": "#bebebe", "stroke": "#d4d4d4", "strokeWidth": 0.4}, "encoding": {"y2": {"datum": 0}}},
    {"data": {"name": "lines"}, "transform": [{"filter": "datum.y == 2012"}, {"lookup": "s", "from": {"data": {"name": "series"}, "key": "s", "fields": ["name"]}}], "mark": {"type": "line", "strokeWidth": 1.8}, "encoding": {"color": {"field": "name", "type": "nominal", "scale": {"domain": ["Proportion of Initiation Events", "Proportion of Successful Nests", "Proportion of Failed Nests"], "range": ["#00BA38", "#619CFF", "#F8766D"]}, "legend": {"title": null, "orient": "none", "legendX": 147, "legendY": 814, "direction": "horizontal"}}}}
   ]}
 ]},
 {"spacing": 1, "vconcat": [
  {"width": 371, "height": 39, "data": {"values": [{"year": "2013"}]}, "mark": {"type": "text", "fontSize": 20, "color": "#1a1a1a"}, "encoding": {"text": {"field": "year", "type": "nominal"}}, "view": {"stroke": "black", "strokeWidth": 1.5, "fill": "white"}},
  {"width": 371, "height": 195,
   "encoding": {"x": {"field": "d", "type": "quantitative", "scale": {"domain": [-12.6, 77.1], "nice": false, "zero": false}, "axis": null},
                "y": {"field": "v", "type": "quantitative", "scale": {"domain": [-0.05, 1.05], "nice": false, "zero": false}, "axis": null}},
   "layer": [
    {"data": {"name": "bars"}, "transform": [{"filter": "datum.y == 2013"}], "mark": {"type": "bar", "size": 4.14, "fill": "#bebebe", "stroke": "#d4d4d4", "strokeWidth": 0.4}, "encoding": {"y2": {"datum": 0}}},
    {"data": {"name": "lines"}, "transform": [{"filter": "datum.y == 2013"}, {"lookup": "s", "from": {"data": {"name": "series"}, "key": "s", "fields": ["name"]}}], "mark": {"type": "line", "strokeWidth": 1.8}, "encoding": {"color": {"field": "name", "type": "nominal", "scale": {"domain": ["Proportion of Initiation Events", "Proportion of Successful Nests", "Proportion of Failed Nests"], "range": ["#00BA38", "#619CFF", "#F8766D"]}, "legend": {"title": null, "orient": "none", "legendX": 147, "legendY": 814, "direction": "horizontal"}}}}
   ]}
 ]},
 {"spacing": 1, "vconcat": [
  {"width": 371, "height": 39, "data": {"values": [{"year": "2014"}]}, "mark": {"type": "text", "fontSize": 20, "color": "#1a1a1a"}, "encoding": {"text": {"field": "year", "type": "nominal"}}, "view": {"stroke": "black", "strokeWidth": 1.5, "fill": "white"}},
  {"width": 371, "height": 195,
   "encoding": {"x": {"field": "d", "type": "quantitative", "scale": {"domain": [-12.6, 77.1], "nice": false, "zero": false}, "axis": null},
                "y": {"field": "v", "type": "quantitative", "scale": {"domain": [-0.05, 1.05], "nice": false, "zero": false}, "axis": {"orient": "right", "values": [0, 0.25, 0.5, 0.75, 1], "format": ".2f", "title": null, "tickSize": 3, "labelPadding": 6}}},
   "layer": [
    {"data": {"name": "bars"}, "transform": [{"filter": "datum.y == 2014"}], "mark": {"type": "bar", "size": 4.14, "fill": "#bebebe", "stroke": "#d4d4d4", "strokeWidth": 0.4}, "encoding": {"y2": {"datum": 0}}},
    {"data": {"name": "lines"}, "transform": [{"filter": "datum.y == 2014"}, {"lookup": "s", "from": {"data": {"name": "series"}, "key": "s", "fields": ["name"]}}], "mark": {"type": "line", "strokeWidth": 1.8}, "encoding": {"color": {"field": "name", "type": "nominal", "scale": {"domain": ["Proportion of Initiation Events", "Proportion of Successful Nests", "Proportion of Failed Nests"], "range": ["#00BA38", "#619CFF", "#F8766D"]}, "legend": {"title": null, "orient": "none", "legendX": 147, "legendY": 814, "direction": "horizontal"}}}}
   ]}
 ]}
]},
{"spacing": 11, "hconcat": [
 {"spacing": 1, "vconcat": [
  {"width": 371, "height": 39, "data": {"values": [{"year": "2015"}]}, "mark": {"type": "text", "fontSize": 20, "color": "#1a1a1a"}, "encoding": {"text": {"field": "year", "type": "nominal"}}, "view": {"stroke": "black", "strokeWidth": 1.5, "fill": "white"}},
  {"width": 371, "height": 195,
   "encoding": {"x": {"field": "d", "type": "quantitative", "scale": {"domain": [-12.6, 77.1], "nice": false, "zero": false}, "axis": {"values": [0, 20, 40, 60], "title": null, "tickSize": 5.5, "labelPadding": 4}},
                "y": {"field": "v", "type": "quantitative", "scale": {"domain": [-0.05, 1.05], "nice": false, "zero": false}, "axis": {"orient": "left", "values": [0, 0.25, 0.5, 0.75, 1], "format": ".2f", "title": null, "tickSize": 5.5, "labelPadding": 5}}},
   "layer": [
    {"data": {"name": "bars"}, "transform": [{"filter": "datum.y == 2015"}], "mark": {"type": "bar", "size": 4.14, "fill": "#bebebe", "stroke": "#d4d4d4", "strokeWidth": 0.4}, "encoding": {"y2": {"datum": 0}}},
    {"data": {"name": "lines"}, "transform": [{"filter": "datum.y == 2015"}, {"lookup": "s", "from": {"data": {"name": "series"}, "key": "s", "fields": ["name"]}}], "mark": {"type": "line", "strokeWidth": 1.8}, "encoding": {"color": {"field": "name", "type": "nominal", "scale": {"domain": ["Proportion of Initiation Events", "Proportion of Successful Nests", "Proportion of Failed Nests"], "range": ["#00BA38", "#619CFF", "#F8766D"]}, "legend": {"title": null, "orient": "none", "legendX": 147, "legendY": 814, "direction": "horizontal"}}}}
   ]}
 ]},
 {"spacing": 1, "vconcat": [
  {"width": 371, "height": 39, "data": {"values": [{"year": "2016"}]}, "mark": {"type": "text", "fontSize": 20, "color": "#1a1a1a"}, "encoding": {"text": {"field": "year", "type": "nominal"}}, "view": {"stroke": "black", "strokeWidth": 1.5, "fill": "white"}},
  {"width": 371, "height": 195,
   "encoding": {"x": {"field": "d", "type": "quantitative", "scale": {"domain": [-12.6, 77.1], "nice": false, "zero": false}, "axis": {"values": [0, 20, 40, 60], "title": "Day within Breeding Season", "titlePadding": 10, "tickSize": 5.5, "labelPadding": 4}},
                "y": {"field": "v", "type": "quantitative", "scale": {"domain": [-0.05, 1.05], "nice": false, "zero": false}, "axis": null}},
   "layer": [
    {"data": {"name": "bars"}, "transform": [{"filter": "datum.y == 2016"}], "mark": {"type": "bar", "size": 4.14, "fill": "#bebebe", "stroke": "#d4d4d4", "strokeWidth": 0.4}, "encoding": {"y2": {"datum": 0}}},
    {"data": {"name": "lines"}, "transform": [{"filter": "datum.y == 2016"}, {"lookup": "s", "from": {"data": {"name": "series"}, "key": "s", "fields": ["name"]}}], "mark": {"type": "line", "strokeWidth": 1.8}, "encoding": {"color": {"field": "name", "type": "nominal", "scale": {"domain": ["Proportion of Initiation Events", "Proportion of Successful Nests", "Proportion of Failed Nests"], "range": ["#00BA38", "#619CFF", "#F8766D"]}, "legend": {"title": null, "orient": "none", "legendX": 147, "legendY": 814, "direction": "horizontal"}}}}
   ]}
 ]},
 {"spacing": 1, "vconcat": [
  {"width": 371, "height": 39, "data": {"values": [{"year": "2017"}]}, "mark": {"type": "text", "fontSize": 20, "color": "#1a1a1a"}, "encoding": {"text": {"field": "year", "type": "nominal"}}, "view": {"stroke": "black", "strokeWidth": 1.5, "fill": "white"}},
  {"width": 371, "height": 195,
   "encoding": {"x": {"field": "d", "type": "quantitative", "scale": {"domain": [-12.6, 77.1], "nice": false, "zero": false}, "axis": {"values": [0, 20, 40, 60], "title": null, "tickSize": 5.5, "labelPadding": 4}},
                "y": {"field": "v", "type": "quantitative", "scale": {"domain": [-0.05, 1.05], "nice": false, "zero": false}, "axis": {"orient": "right", "values": [0, 0.25, 0.5, 0.75, 1], "format": ".2f", "title": null, "tickSize": 3, "labelPadding": 6}}},
   "layer": [
    {"data": {"name": "bars"}, "transform": [{"filter": "datum.y == 2017"}], "mark": {"type": "bar", "size": 4.14, "fill": "#bebebe", "stroke": "#d4d4d4", "strokeWidth": 0.4}, "encoding": {"y2": {"datum": 0}}},
    {"data": {"name": "lines"}, "transform": [{"filter": "datum.y == 2017"}, {"lookup": "s", "from": {"data": {"name": "series"}, "key": "s", "fields": ["name"]}}], "mark": {"type": "line", "strokeWidth": 1.8}, "encoding": {"color": {"field": "name", "type": "nominal", "scale": {"domain": ["Proportion of Initiation Events", "Proportion of Successful Nests", "Proportion of Failed Nests"], "range": ["#00BA38", "#619CFF", "#F8766D"]}, "legend": {"title": null, "orient": "none", "legendX": 147, "legendY": 814, "direction": "horizontal"}}}}
   ]}
 ]}
]}
]}
],
"config": {
 "font": "Liberation Sans",
 "view": {"stroke": null},
 "axis": {"grid": false, "domainColor": "black", "domainWidth": 1.4, "tickColor": "#333333", "tickWidth": 1.2, "labelColor": "#4d4d4d", "labelFontSize": 19, "labelFont": "Liberation Sans", "titleFont": "Liberation Sans", "titleFontSize": 24, "titleFontWeight": "normal", "titleColor": "black"},
 "legend": {"symbolType": "stroke", "symbolSize": 841, "symbolStrokeWidth": 2, "labelFontSize": 20.5, "labelFont": "Liberation Sans", "labelColor": "#1a1a1a", "labelLimit": 400, "columnPadding": 18, "labelOffset": 17}
}
}
